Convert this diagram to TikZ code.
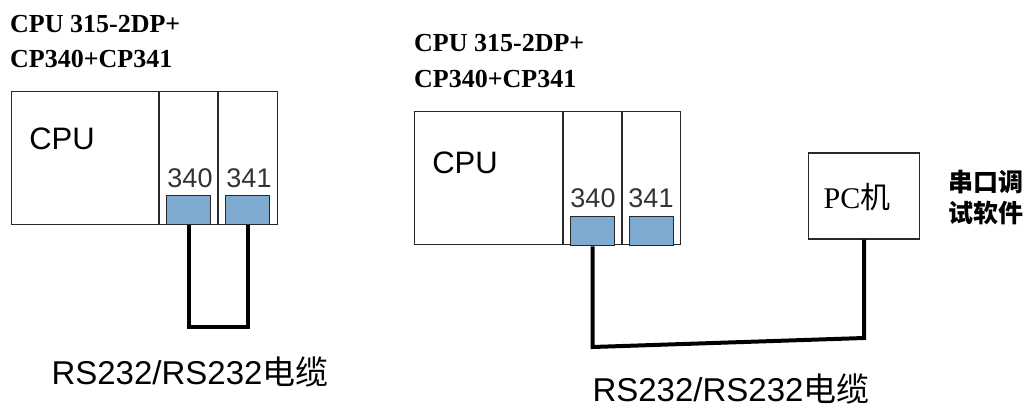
\documentclass[tikz,border=0pt]{standalone}
\usepackage{fontspec}
\setmainfont{Liberation Serif}
\setsansfont{Liberation Sans}
\newfontfamily\cjk{Noto Sans CJK SC}
\definecolor{portblue}{RGB}{127,170,208}
\definecolor{frame}{RGB}{40,40,40}
\begin{document}
\begin{tikzpicture}[x=1pt,y=-1pt,
  modbox/.style={draw=frame,line width=1.3pt,inner sep=0pt,anchor=north west},
  divline/.style={draw=frame,line width=1.2pt},
  port/.style={draw=frame,fill=portblue,line width=1.3pt,inner sep=0pt,anchor=north west,minimum width=44pt,minimum height=29pt},
  cable/.style={line width=4pt,black},
  title/.style={font=\fontsize{26}{26}\selectfont\bfseries,anchor=west,inner sep=0pt},
  cpulbl/.style={font=\sffamily\fontsize{31}{31}\selectfont,inner sep=0pt},
  numlbl/.style={font=\sffamily\fontsize{27}{27}\selectfont,text=black!80,inner sep=0pt},
  cablelbl/.style={font=\sffamily\fontsize{33}{33}\selectfont,inner sep=0pt},
]
\useasboundingbox (0,0) rectangle (1034,407);
% ---- left assembly
\node[title] (t1a) at (10,24) {CPU 315-2DP+};
\node[title] (t1b) at (10,59) {CP340+CP341};
\node[modbox,minimum width=266pt,minimum height=133pt] (m1) at (11,91) {};
\draw[divline] (159,91) -- (159,224);
\draw[divline] (218,91) -- (218,224);
\node[cpulbl] (c1) at (62,139) {CPU};
\node[numlbl] (n1a) at (190,178) {340};
\node[numlbl] (n1b) at (249,178) {341};
\node[port] (p1a) at (166,195) {};
\node[port] (p1b) at (225,195) {};
\coordinate (k1a) at (p1a.south |- 0,327);
\coordinate (k1b) at (p1b.south |- 0,327);
\draw[cable] (p1a.south) -- (k1a) -- (k1b) -- (p1b.south);
\node[cablelbl] (l1) at (190,372) {RS232/RS232{\cjk 电缆}};
% ---- right assembly
\node[title] (t2a) at (414,43) {CPU 315-2DP+};
\node[title] (t2b) at (414,79) {CP340+CP341};
\node[modbox,minimum width=266pt,minimum height=133pt] (m2) at (414,111) {};
\draw[divline] (563,111) -- (563,244);
\draw[divline] (622,111) -- (622,244);
\node[cpulbl] (c2) at (465,163) {CPU};
\node[numlbl] (n2a) at (593,198) {340};
\node[numlbl] (n2b) at (651,198) {341};
\node[port] (p2a) at (570,216) {};
\node[port] (p2b) at (629,216) {};
\node[draw=frame,line width=1.3pt,minimum width=111pt,minimum height=86pt,inner sep=0pt] (pc) at (864,196) {};
\node[font=\fontsize{30}{30}\selectfont,inner sep=0pt] (pct) at (857,197) {PC{\cjk 机}};
\node[font=\cjk\bfseries\fontsize{25}{31}\selectfont,align=left,inner sep=0pt] (sw) at (986,198) {串口调\\试软件};
\coordinate (k2a) at (p2a.south |- 0,347);
\coordinate (k2b) at (pc.south |- 0,338);
\draw[cable] (p2a.south) -- (k2a) -- (k2b) -- (pc.south);
\node[cablelbl] (l2) at (731,389) {RS232/RS232{\cjk 电缆}};
\end{tikzpicture}
\end{document}
